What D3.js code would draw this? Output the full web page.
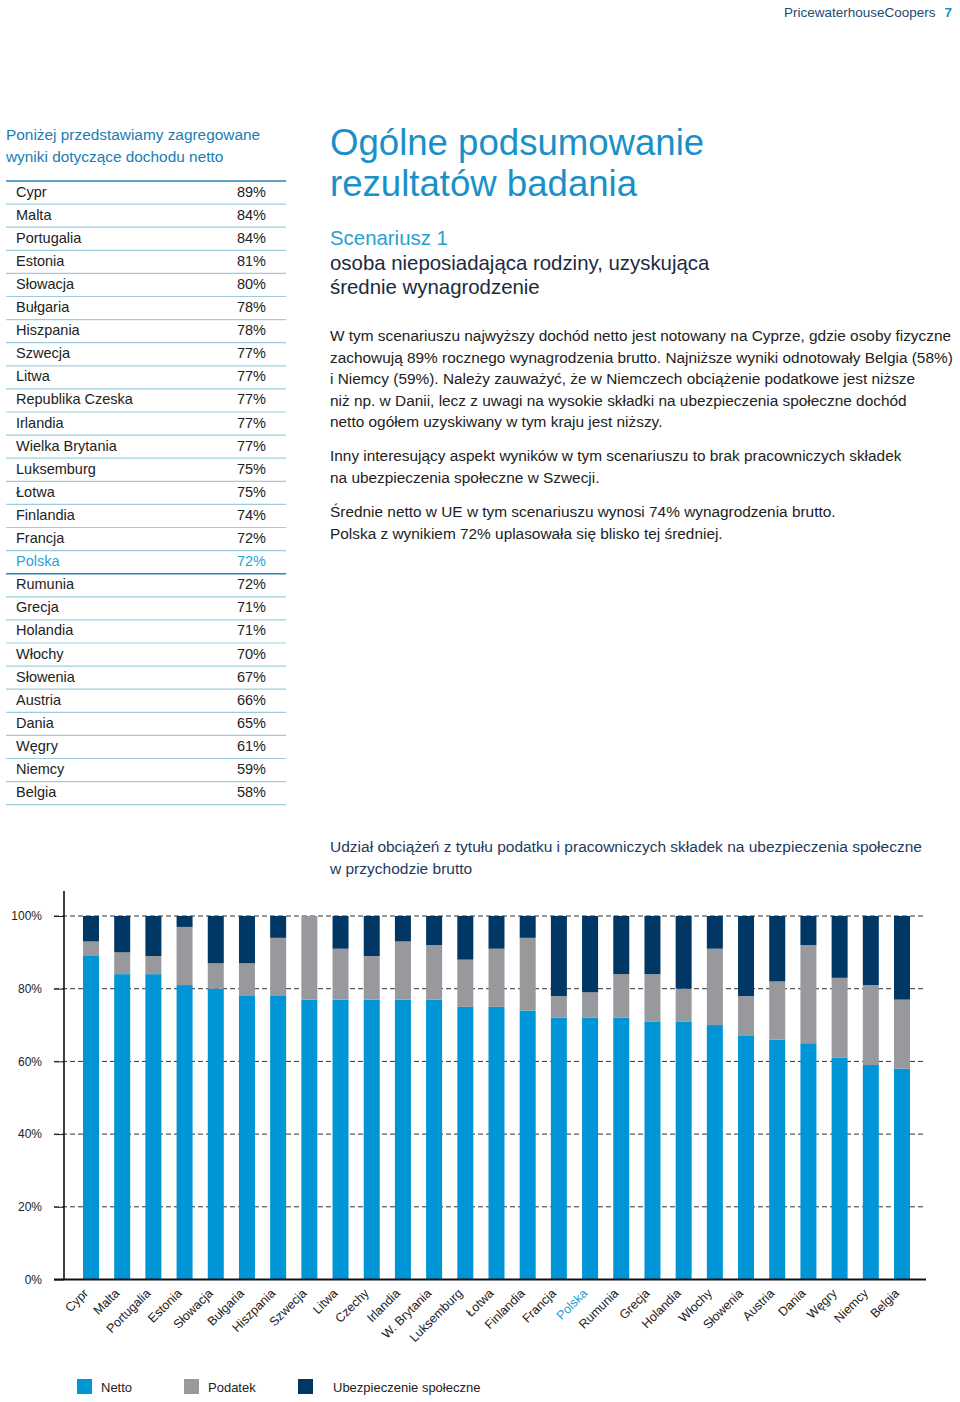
<!DOCTYPE html>
<html><head><meta charset="utf-8">
<script src="https://cdn.jsdelivr.net/npm/d3@7"></script>
<style>
html,body{margin:0;padding:0;background:#fff;}
svg{display:block;font-family:"Liberation Sans",Arial,Helvetica,sans-serif;}
</style></head>
<body>
<svg id="page" width="960" height="1402"></svg>
<script>
// ---- Table data ----
const tableCountries = ["Cypr","Malta","Portugalia","Estonia","Słowacja","Bułgaria","Hiszpania","Szwecja","Litwa","Republika Czeska","Irlandia","Wielka Brytania","Luksemburg","Łotwa","Finlandia","Francja","Polska","Rumunia","Grecja","Holandia","Włochy","Słowenia","Austria","Dania","Węgry","Niemcy","Belgia"];
const tableValues = [89,84,84,81,80,78,78,77,77,77,77,77,75,75,74,72,72,72,71,71,70,67,66,65,61,59,58];

// ---- Chart data ----
const chartCountries = ["Cypr","Malta","Portugalia","Estonia","Słowacja","Bułgaria","Hiszpania","Szwecja","Litwa","Czechy","Irlandia","W. Brytania","Luksemburg","Łotwa","Finlandia","Francja","Polska","Rumunia","Grecja","Holandia","Włochy","Słowenia","Austria","Dania","Węgry","Niemcy","Belgia"];
const netto   = [89,84,84,81,80,78,78,77,77,77,77,77,75,75,74,72,72,72,71,71,70,67,66,65,61,59,58];
const podatek = [4,6,5,16,7,9,16,23,14,12,16,15,13,16,20,6,7,12,13,9,21,11,16,27,22,22,19];
const ubezp   = [7,10,11,3,13,13,6,0,9,11,7,8,12,9,6,22,21,16,16,20,9,22,18,8,17,19,23];
const yTicks = [0,20,40,60,80,100];
const seriesKeys = ["Netto","Podatek","Ubezpieczenie społeczne"];
const highlight = "Polska";

const colors = {"Netto":"#0095d6","Podatek":"#98999c","Ubezpieczenie społeczne":"#003764"};
const svg = d3.select("#page");

// Header
const hdr = svg.append("text").attr("x",952).attr("y",17).attr("text-anchor","end").attr("font-size",13.5);
hdr.append("tspan").attr("fill","#1e4a72").text("PricewaterhouseCoopers");
hdr.append("tspan").attr("fill","#1a8fc9").attr("font-weight","bold").attr("dx",9).text("7");

// Left intro
svg.append("text").attr("x",6).attr("y",140).attr("font-size",15.4).attr("fill","#1a7db3").text("Poniżej przedstawiamy zagregowane");
svg.append("text").attr("x",6).attr("y",162).attr("font-size",15.4).attr("fill","#1a7db3").text("wyniki dotyczące dochodu netto");

// Table
const rowY = d3.scaleLinear().domain([0,27]).range([181,804.7]);
const tbl = svg.append("g");
d3.range(28).forEach(i=>{
  const dark = (i===0 || i===17);
  tbl.append("line").attr("x1",6).attr("x2",286).attr("y1",rowY(i)).attr("y2",rowY(i))
    .attr("stroke", dark? "#2a86b5" : "#9cccdc").attr("stroke-width", dark?1.6:1.2);
});
tableCountries.forEach((c,i)=>{
  const col = c===highlight ? "#2a9fd2" : "#222";
  const yc = (rowY(i)+rowY(i+1))/2 + 4;
  tbl.append("text").attr("x",16).attr("y",yc).attr("font-size",14.5).attr("fill",col).text(c);
  tbl.append("text").attr("x",266).attr("y",yc).attr("font-size",14.5).attr("fill",col).attr("text-anchor","end").text(tableValues[i]+"%");
});

// Right title block
svg.append("text").attr("x",330).attr("y",155).attr("font-size",36.6).attr("fill","#1a90c8").text("Ogólne podsumowanie");
svg.append("text").attr("x",330).attr("y",196).attr("font-size",36.6).attr("fill","#1a90c8").text("rezultatów badania");
svg.append("text").attr("x",330).attr("y",245).attr("font-size",20.4).attr("fill","#2a9fd0").text("Scenariusz 1");
svg.append("text").attr("x",330).attr("y",270).attr("font-size",20.4).attr("fill","#1b2b40").text("osoba nieposiadająca rodziny, uzyskująca");
svg.append("text").attr("x",330).attr("y",294).attr("font-size",20.4).attr("fill","#1b2b40").text("średnie wynagrodzenie");

const paras = [
 {y:341, lines:["W tym scenariuszu najwyższy dochód netto jest notowany na Cyprze, gdzie osoby fizyczne","zachowują 89% rocznego wynagrodzenia brutto. Najniższe wyniki odnotowały Belgia (58%)","i Niemcy (59%). Należy zauważyć, że w Niemczech obciążenie podatkowe jest niższe","niż np. w Danii, lecz z uwagi na wysokie składki na ubezpieczenia społeczne dochód","netto ogółem uzyskiwany w tym kraju jest niższy."]},
 {y:461, lines:["Inny interesujący aspekt wyników w tym scenariuszu to brak pracowniczych składek","na ubezpieczenia społeczne w Szwecji."]},
 {y:517, lines:["Średnie netto w UE w tym scenariuszu wynosi 74% wynagrodzenia brutto.","Polska z wynikiem 72% uplasowała się blisko tej średniej."]}
];
paras.forEach(p=>{
  p.lines.forEach((l,i)=>{
    svg.append("text").attr("x",330).attr("y",p.y+i*21.6).attr("font-size",15.4).attr("fill","#222").text(l);
  });
});

// Chart title
svg.append("text").attr("x",330).attr("y",852).attr("font-size",15.5).attr("fill","#1d3a5c").text("Udział obciążeń z tytułu podatku i pracowniczych składek na ubezpieczenia społeczne");
svg.append("text").attr("x",330).attr("y",874).attr("font-size",15.5).attr("fill","#1d3a5c").text("w przychodzie brutto");

// Chart
const x = d3.scalePoint().domain(chartCountries).range([91,902]);
const y = d3.scaleLinear().domain([0,100]).range([1279.5,916]);
const barW = 16;
const chart = svg.append("g");

// gridlines
chart.append("g").selectAll("line").data(yTicks.filter(t=>t>0)).join("line")
  .attr("x1",54).attr("x2",926).attr("y1",d=>y(d)).attr("y2",d=>y(d))
  .attr("stroke","#333").attr("stroke-width",1).attr("stroke-dasharray","5,3");

const rows = chartCountries.map((c,i)=>({country:c,"Netto":netto[i],"Podatek":podatek[i],"Ubezpieczenie społeczne":ubezp[i]}));
const stacked = d3.stack().keys(seriesKeys)(rows);
chart.append("g").selectAll("g").data(stacked).join("g").attr("fill",d=>colors[d.key])
  .selectAll("rect").data(d=>d).join("rect")
  .attr("x",d=>x(d.data.country)-barW/2).attr("width",barW)
  .attr("y",d=>y(d[1])).attr("height",d=>y(d[0])-y(d[1]));

// y axis
const yAxis = d3.axisLeft(y).tickValues(yTicks).tickFormat(d=>d+"%").tickSize(10).tickPadding(12);
const yg = chart.append("g").attr("transform","translate(64,0)").call(yAxis);
yg.select(".domain").remove();
yg.selectAll(".tick line").attr("stroke","#222");
yg.selectAll(".tick text").attr("font-size",12).attr("fill","#222").attr("font-family","Liberation Sans, Arial, sans-serif");
chart.append("line").attr("x1",64).attr("x2",64).attr("y1",891).attr("y2",1280).attr("stroke","#111").attr("stroke-width",1.6);
// x axis
chart.append("line").attr("x1",54).attr("x2",926).attr("y1",1279.5).attr("y2",1279.5).attr("stroke","#111").attr("stroke-width",2);
chart.append("g").selectAll("text").data(chartCountries).join("text")
  .attr("transform",d=>`translate(${x(d)-2},${1294}) rotate(-45)`)
  .attr("text-anchor","end").attr("font-size",12.5)
  .attr("fill",d=>d===highlight?"#2a9fd2":"#222").text(d=>d);

// legend
const legX = [77,184,298];
const legTX = [101,208,333];
const lg = svg.append("g");
seriesKeys.forEach((k,i)=>{
  lg.append("rect").attr("x",legX[i]).attr("y",1379).attr("width",15).attr("height",15).attr("fill",colors[k]);
  lg.append("text").attr("x",legTX[i]).attr("y",1392).attr("font-size",13).attr("fill","#222").text(k);
});
</script>
</body></html>
